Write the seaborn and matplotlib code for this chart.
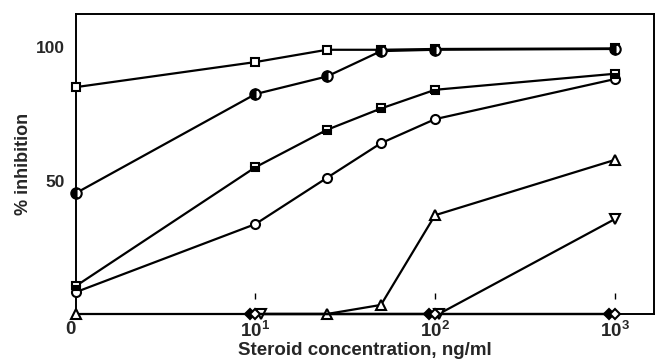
import matplotlib
matplotlib.use("Agg")
import matplotlib.pyplot as plt
import seaborn as sns
import pandas as pd
from matplotlib.path import Path
from matplotlib.markers import MarkerStyle

# ---- data ----
x_sq_open = [1, 10, 25, 50, 100, 1000]
y_sq_open = [85, 94.4, 99, 99, 99.3, 99.5]

x_ci_half = [1, 10, 25, 50, 100, 1000]
y_ci_half = [45.3, 82.4, 89, 98.5, 99, 99.3]

x_sq_half = [1, 10, 25, 50, 100, 1000]
y_sq_half = [10.5, 55, 69, 77, 84, 90]

x_ci_open = [1, 10, 25, 50, 100, 1000]
y_ci_open = [8.2, 33.7, 51, 64, 73, 88]

x_tri_up = [1, 25, 50, 100, 1000]
y_tri_up = [0, 0, 3.4, 37, 57.7]

x_tri_down = [10.7, 105, 1000]
y_tri_down = [0, 0, 35.5]

x_dia_filled = [9.3, 93, 935]
y_dia_filled = [0, 0, 0]

x_dia_open = [10, 100, 1000]
y_dia_open = [0, 0, 0]

xtick_vals = [1, 10, 100, 1000]
xtick_labels = ["0", r"$\mathbf{10^{1}}$", r"$\mathbf{10^{2}}$", r"$\mathbf{10^{3}}$"]
ytick_vals = [50, 100]
ytick_labels = ["50", "100"]

sns.set_style("white")
plt.rcParams["font.family"] = ["Liberation Sans", "DejaVu Sans"]
plt.rcParams["font.weight"] = "bold"
plt.rcParams["mathtext.fontset"] = "custom"
plt.rcParams["mathtext.bf"] = "Liberation Sans:bold"
plt.rcParams["mathtext.rm"] = "Liberation Sans:bold"

fig = plt.figure(figsize=(6.6, 3.62), dpi=100)
ax = fig.add_axes([0.115, 0.1326, 0.876, 0.8287])

series = [
    (x_sq_open, y_sq_open, dict(marker="s", mfc="white", fillstyle="full", markersize=5.5)),
    (x_ci_open, y_ci_open, dict(marker="o", mfc="white", fillstyle="full")),
    (x_sq_half, y_sq_half, dict(marker="s", mfc="black", fillstyle="bottom", markerfacecoloralt="white", markersize=6)),
    (x_ci_half, y_ci_half, dict(marker="o", mfc="black", fillstyle="left", markerfacecoloralt="white", markersize=7.5)),
    (x_tri_up, y_tri_up, dict(marker="^", mfc="white", fillstyle="full")),
    (x_tri_down, y_tri_down, dict(marker="v", mfc="white", fillstyle="full")),
    (x_dia_filled, y_dia_filled, dict(marker="D", mfc="black", fillstyle="full", markersize=5)),
    (x_dia_open, y_dia_open, dict(marker="D", mfc="white", fillstyle="full", markersize=5)),
]

for i, (xs, ys, kw) in enumerate(series):
    df = pd.DataFrame({"x": xs, "y": ys})
    opts = dict(markersize=6.5, markeredgewidth=1.5, markeredgecolor="black")
    opts.update(kw)
    sns.lineplot(data=df, x="x", y="y", ax=ax, color="black", linewidth=1.6,
                 sort=False, clip_on=False, zorder=3 + i, **opts)

ax.set_xscale("log")
ax.set_xlim(1, 1660)
ax.set_ylim(0, 112.4)
ax.minorticks_off()

ax.set_xticks(xtick_vals)
ax.set_xticklabels(xtick_labels)
ax.set_yticks(ytick_vals)
ax.set_yticklabels(ytick_labels)

for lab in ax.get_xticklabels():
    lab.set_fontsize(13.5)
    lab.set_fontweight("bold")
ax.get_xticklabels()[0].set_horizontalalignment("right")
for lab in ax.get_yticklabels():
    lab.set_fontsize(12.5)
    lab.set_fontweight("bold")

ax.tick_params(axis="y", direction="in", length=4, width=1.2, color="black", pad=8)
ax.tick_params(axis="x", direction="in", length=0, width=0, pad=5)
for t in ax.yaxis.get_major_ticks():
    t.tick2line.set_visible(False)

# small tick marks floating just above the x axis line (as in the reference)
tick_marker = MarkerStyle(Path([(0, 11.0), (0, 15.0)], [Path.MOVETO, Path.LINETO]))
ax.plot(xtick_vals[1:], [0] * len(xtick_vals[1:]), linestyle="none", marker=tick_marker,
        markersize=30, markeredgewidth=1.0, markeredgecolor="black", clip_on=False, zorder=2)

for s in ax.spines.values():
    s.set_visible(True)
    s.set_color("black")
    s.set_linewidth(1.4)

ax.set_xlabel("Steroid concentration, ng/ml", fontsize=13.5, fontweight="bold", labelpad=1)
ax.set_ylabel("% inhibition", fontsize=13, fontweight="bold", labelpad=3)

fig.savefig("out.png", dpi=100)
